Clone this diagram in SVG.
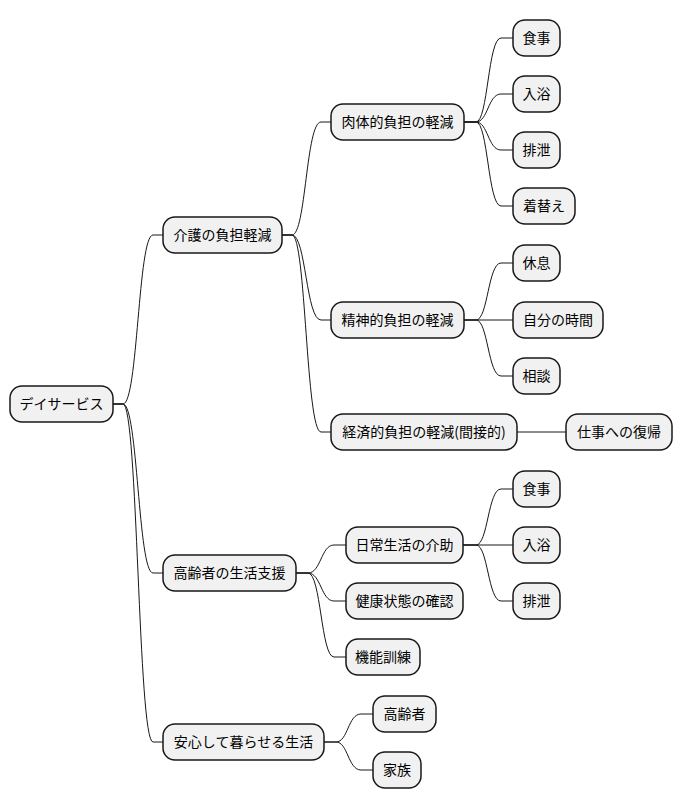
<svg xmlns="http://www.w3.org/2000/svg" width="681" height="809" viewBox="0 0 681 809">
<style>
.n rect{fill:#F1F1F1;stroke:#181818;stroke-width:1.5}
.n text{font-family:"Noto Sans CJK JP","Noto Sans",sans-serif;font-size:14px;fill:#000;text-anchor:middle}
.c path{fill:none;stroke:#181818;stroke-width:1}
</style>
<rect width="681" height="809" fill="#FFFFFF"/>
<g class="c">
<path d="M113 404 H123 C138 404 138 235 153 235 H163"/>
<path d="M113 404 H123 C138 404 138 573 153 573 H163"/>
<path d="M113 404 H123 C138 404 138 742 153 742 H163"/>
<path d="M282 235 H292 C306 235 306 122 321 122 H331"/>
<path d="M282 235 H292 C306 235 306 320 321 320 H331"/>
<path d="M282 235 H292 C306 235 306 432 321 432 H331"/>
<path d="M464 122 H476 C488 122 488 38 501 38 H513"/>
<path d="M464 122 H476 C488 122 488 94 501 94 H513"/>
<path d="M464 122 H476 C488 122 488 150 501 150 H513"/>
<path d="M464 122 H476 C488 122 488 206 501 206 H513"/>
<path d="M464 320 H476 C488 320 488 263 501 263 H513"/>
<path d="M464 320 H513"/>
<path d="M464 320 H476 C488 320 488 376 501 376 H513"/>
<path d="M517 432 H566"/>
<path d="M296 573 H308 C321 573 321 545 334 545 H346"/>
<path d="M296 573 H308 C321 573 321 601 334 601 H346"/>
<path d="M296 573 H308 C321 573 321 657 334 657 H346"/>
<path d="M463 545 H476 C488 545 488 489 501 489 H513"/>
<path d="M463 545 H513"/>
<path d="M463 545 H476 C488 545 488 601 501 601 H513"/>
<path d="M324 742 H336 C348 742 348 714 361 714 H373"/>
<path d="M324 742 H336 C348 742 348 770 361 770 H373"/>
</g>
<g id="root" class="n"><rect x="10" y="386" width="103" height="36" rx="12"/><text x="61.5" y="409">デイサービス</text></g>
<g id="kaigo" class="n"><rect x="163" y="217" width="119" height="36" rx="12"/><text x="222.5" y="240">介護の負担軽減</text></g>
<g id="nikutai" class="n"><rect x="331" y="104" width="133" height="36" rx="12"/><text x="397.5" y="127">肉体的負担の軽減</text></g>
<g id="shokuji1" class="n"><rect x="513" y="20" width="47" height="36" rx="12"/><text x="536.5" y="43">食事</text></g>
<g id="nyuyoku1" class="n"><rect x="513" y="76" width="47" height="36" rx="12"/><text x="536.5" y="99">入浴</text></g>
<g id="haisetsu1" class="n"><rect x="513" y="132" width="47" height="36" rx="12"/><text x="536.5" y="155">排泄</text></g>
<g id="kigae" class="n"><rect x="513" y="188" width="62" height="36" rx="12"/><text x="544" y="211">着替え</text></g>
<g id="seishin" class="n"><rect x="331" y="302" width="133" height="36" rx="12"/><text x="397.5" y="325">精神的負担の軽減</text></g>
<g id="kyusoku" class="n"><rect x="513" y="245" width="47" height="36" rx="12"/><text x="536.5" y="268">休息</text></g>
<g id="jibun" class="n"><rect x="513" y="302" width="90" height="36" rx="12"/><text x="558" y="325">自分の時間</text></g>
<g id="sodan" class="n"><rect x="513" y="358" width="47" height="36" rx="12"/><text x="536.5" y="381">相談</text></g>
<g id="keizai" class="n"><rect x="331" y="414" width="186" height="36" rx="12"/><text x="424" y="437">経済的負担の軽減(間接的)</text></g>
<g id="shigoto" class="n"><rect x="566" y="414" width="106" height="36" rx="12"/><text x="619" y="437">仕事への復帰</text></g>
<g id="seikatsu" class="n"><rect x="163" y="555" width="133" height="36" rx="12"/><text x="229.5" y="578">高齢者の生活支援</text></g>
<g id="nichijo" class="n"><rect x="346" y="527" width="117" height="36" rx="12"/><text x="404.5" y="550">日常生活の介助</text></g>
<g id="shokuji2" class="n"><rect x="513" y="471" width="47" height="36" rx="12"/><text x="536.5" y="494">食事</text></g>
<g id="nyuyoku2" class="n"><rect x="513" y="527" width="47" height="36" rx="12"/><text x="536.5" y="550">入浴</text></g>
<g id="haisetsu2" class="n"><rect x="513" y="583" width="47" height="36" rx="12"/><text x="536.5" y="606">排泄</text></g>
<g id="kenko" class="n"><rect x="346" y="583" width="117" height="36" rx="12"/><text x="404.5" y="606">健康状態の確認</text></g>
<g id="kino" class="n"><rect x="346" y="639" width="74" height="36" rx="12"/><text x="383" y="662">機能訓練</text></g>
<g id="anshin" class="n"><rect x="163" y="724" width="161" height="36" rx="12"/><text x="243.5" y="747">安心して暮らせる生活</text></g>
<g id="koreisha" class="n"><rect x="373" y="696" width="63" height="36" rx="12"/><text x="404.5" y="719">高齢者</text></g>
<g id="kazoku" class="n"><rect x="373" y="752" width="48" height="36" rx="12"/><text x="397" y="775">家族</text></g>
</svg>
